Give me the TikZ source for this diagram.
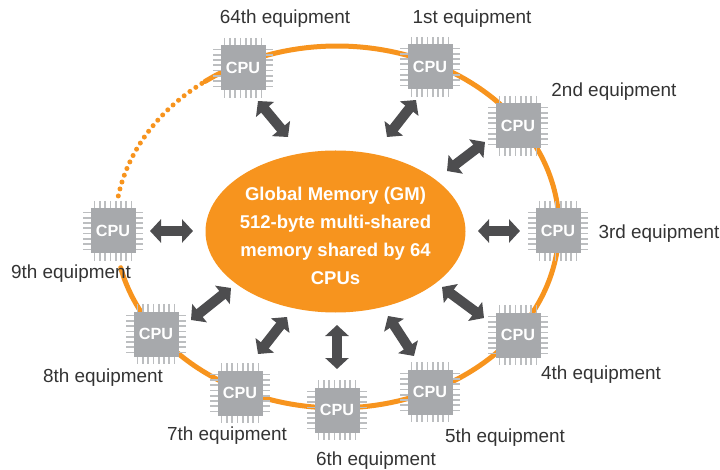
\documentclass[tikz,border=0pt]{standalone}
\usepackage{fontspec}
\setmainfont{Liberation Sans}
\usetikzlibrary{arrows.meta,shapes.geometric}
\definecolor{ringc}{HTML}{F7941E}
\definecolor{chipc}{HTML}{A7A9AC}
\definecolor{pinc}{HTML}{BCBEC0}
\definecolor{arrc}{HTML}{4D4D4F}
\definecolor{txtc}{HTML}{333333}
\tikzset{
 ring/.style={ringc,line width=5pt,line cap=round},
 chipbody/.style={fill=chipc,minimum size=45pt,inner sep=0pt,text=white,font=\fontsize{16.2}{18}\selectfont\bfseries},
 pin/.style={pinc,line width=1.7pt},
 bi/.style={arrc,line width=10pt,{Triangle[length=11pt,width=23pt]}-{Triangle[length=11pt,width=23pt]}},
 lab/.style={text=txtc,font=\fontsize{18.9}{20}\selectfont,inner sep=0pt},
 gm/.style={ellipse,fill=ringc,minimum width=260pt,minimum height=162pt,inner sep=0pt},
 gmtext/.style={align=center,text=white,font=\fontsize{18.5}{28}\selectfont\bfseries,inner sep=0pt}
}
\newcommand{\cpuchip}[3]{%
 \foreach \k in {-3.5,-2.5,...,3.5}{
  \draw[pin] (#2+\k*5.3,#3-30) -- (#2+\k*5.3,#3+30);
  \draw[pin] (#2-30,#3+\k*5.3) -- (#2+30,#3+\k*5.3);
 }
 \node[chipbody] (#1) at (#2,#3) {CPU};
}
\begin{document}
\begin{tikzpicture}[x=1pt,y=-1pt]
\useasboundingbox (0,0) rectangle (720,470);
\draw[ring] plot[domain=-126.5:167,samples=120,smooth] ({337+222*cos(\x)},{227+181*sin(\x)});
\draw[ringc,line width=5pt,line cap=round,dash pattern=on 0pt off 7.2pt] plot[domain=-127.5:-172,samples=60,smooth] ({337+222*cos(\x)},{227+181*sin(\x)});
\cpuchip{c64}{243}{68}
\cpuchip{c1}{430}{67}
\cpuchip{c2}{518}{126}
\cpuchip{c3}{558}{231}
\cpuchip{c4}{518}{335}
\cpuchip{c5}{430}{392}
\cpuchip{c6}{337}{410}
\cpuchip{c7}{240}{393}
\cpuchip{c8}{156}{334}
\cpuchip{c9}{113}{231}
\node[gm] (gmshape) at (335.5,231.5) {};
\node[gmtext] (mem) at (335.5,236) {Global Memory (GM)\\512-byte multi-shared\\memory shared by 64\\CPUs};
\foreach \n/\xa/\ya/\xb/\yb in {a64/258/101/288/137,a1/416/100/387/137,a2/485/142/447/171,a3/478/231/520/231,a4/442/287/484/318,a5/388/316/414/356,a6/337/325/337/369,a7/287/317/258/354,a8/231/288/191/320,a9/150/231/193/231}{
 \coordinate (\n s) at (\xa,\ya);
 \coordinate (\n e) at (\xb,\yb);
 \draw[bi] (\n s) -- (\n e);
}
\node[lab] (l64) at (285,19) {64th equipment};
\node[lab] (l1) at (472,19) {1st equipment};
\node[lab] (l2) at (614,92) {2nd equipment};
\node[lab] (l3) at (659,234) {3rd equipment};
\node[lab] (l4) at (601,375) {4th equipment};
\node[lab] (l5) at (505,438) {5th equipment};
\node[lab] (l6) at (376,461) {6th equipment};
\node[lab] (l7) at (227,436) {7th equipment};
\node[lab] (l8) at (103,378) {8th equipment};
\node[lab] (l9) at (71,274) {9th equipment};
\end{tikzpicture}
\end{document}
